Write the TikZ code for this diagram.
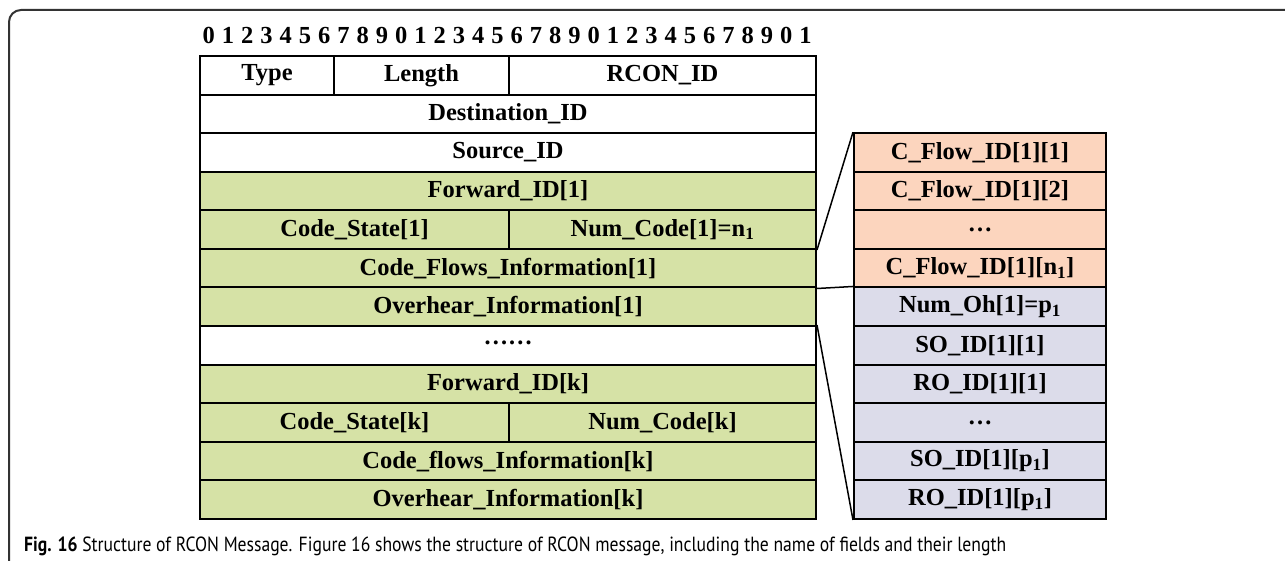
\documentclass[tikz,border=0pt]{standalone}
\usepackage{fontspec}
\setmainfont{Liberation Serif}
\newfontfamily\capfont[FakeStretch=0.86]{PT Sans}
\begin{document}
\begin{tikzpicture}[x=1pt,y=-1pt,
  cell/.style={draw=black, line width=2pt, anchor=north west, inner sep=0pt,
    minimum height=38.6pt, font=\fontsize{24.5}{28}\selectfont\bfseries},
  grn/.style={cell, fill=fieldgreen},
  wht/.style={cell, fill=white},
  pch/.style={cell, fill=flowpeach},
  lav/.style={cell, fill=ohlav},
  bitnum/.style={font=\fontsize{24.5}{28}\selectfont\bfseries, inner sep=0pt, anchor=base},
  link/.style={draw=black, line width=1.5pt}]
\definecolor{fieldgreen}{HTML}{D6E2A6}
\definecolor{flowpeach}{HTML}{FCD5BE}
\definecolor{ohlav}{HTML}{DCDCEA}
\definecolor{framegray}{HTML}{333333}
\useasboundingbox (0,0) rectangle (1285,561);

% outer figure frame (open to the right and bottom)
\draw[framegray, line width=2pt] (9,561) -- (9,22) arc[start angle=180, end angle=270, radius=12] -- (1285,10);

% bit numbering
\foreach \d [count=\i from 0] in {0,1,2,3,4,5,6,7,8,9,0,1,2,3,4,5,6,7,8,9,0,1,2,3,4,5,6,7,8,9,0,1}
  \node[bitnum] (bit\i) at ({199+(\i+0.5)*19.25}, 44) {\d};

% message fields
\def\rh{38.58}
\node[wht, minimum width=134pt] (type) at (199, 55) {Type};
\node[wht, minimum width=175pt] (length) at (333, 55) {Length};
\node[wht, minimum width=307pt] (rconid) at (508, 55) {RCON\_ID};
\node[wht, minimum width=616pt] (dest) at (199, {55+1*\rh}) {Destination\_ID};
\node[wht, minimum width=616pt] (src) at (199, {55+2*\rh}) {Source\_ID};
\node[grn, minimum width=616pt] (fwd1) at (199, {55+3*\rh}) {Forward\_ID[1]};
\node[grn, minimum width=309pt] (cs1) at (199, {55+4*\rh}) {Code\_State[1]};
\node[grn, minimum width=307pt] (nc1) at (508, {55+4*\rh}) {Num\_Code[1]=n\textsubscript{1}};
\node[grn, minimum width=616pt] (cfi1) at (199, {55+5*\rh}) {Code\_Flows\_Information[1]};
\node[grn, minimum width=616pt] (ohi1) at (199, {55+6*\rh}) {Overhear\_Information[1]};
\node[wht, minimum width=616pt] (gap) at (199, {55+7*\rh}) {\raisebox{0.5ex}{\textbf{\ldots\ldots}}};
\node[grn, minimum width=616pt] (fwdk) at (199, {55+8*\rh}) {Forward\_ID[k]};
\node[grn, minimum width=309pt] (csk) at (199, {55+9*\rh}) {Code\_State[k]};
\node[grn, minimum width=307pt] (nck) at (508, {55+9*\rh}) {Num\_Code[k]};
\node[grn, minimum width=616pt] (cfik) at (199, {55+10*\rh}) {Code\_flows\_Information[k]};
\node[grn, minimum width=616pt] (ohik) at (199, {55+11*\rh}) {Overhear\_Information[k]};

% expanded sub-fields
\node[pch, minimum width=252pt] (cf11) at (853, {55+2*\rh}) {C\_Flow\_ID[1][1]};
\node[pch, minimum width=252pt] (cf12) at (853, {55+3*\rh}) {C\_Flow\_ID[1][2]};
\node[pch, minimum width=252pt] (cfdots) at (853, {55+4*\rh}) {\raisebox{-0.3ex}{\ldots}};
\node[pch, minimum width=252pt] (cf1n) at (853, {55+5*\rh}) {C\_Flow\_ID[1][n\textsubscript{1}]};
\node[lav, minimum width=252pt] (noh) at (853, {55+6*\rh}) {Num\_Oh[1]=p\textsubscript{1}};
\node[lav, minimum width=252pt] (so11) at (853, {55+7*\rh}) {SO\_ID[1][1]};
\node[lav, minimum width=252pt] (ro11) at (853, {55+8*\rh}) {RO\_ID[1][1]};
\node[lav, minimum width=252pt] (ohdots) at (853, {55+9*\rh}) {\raisebox{-0.3ex}{\ldots}};
\node[lav, minimum width=252pt] (so1p) at (853, {55+10*\rh}) {SO\_ID[1][p\textsubscript{1}]};
\node[lav, minimum width=252pt] (ro1p) at (853, {55+11*\rh}) {RO\_ID[1][p\textsubscript{1}]};

% zoom lines
\draw[link] (nc1.south east) -- (cf11.north west);
\draw[link] (cfi1.south east) -- (noh.north west);
\draw[link] (gap.north east) -- (ro1p.south west);

% caption
\node[anchor=base west, inner sep=0pt, font=\capfont\fontsize{20.5}{24}\selectfont] (caption) at (24, 551)
  {\textbf{Fig. 16} Structure of RCON Message. Figure 16 shows the structure of RCON message, including the name of fields and their length};
\end{tikzpicture}
\end{document}
